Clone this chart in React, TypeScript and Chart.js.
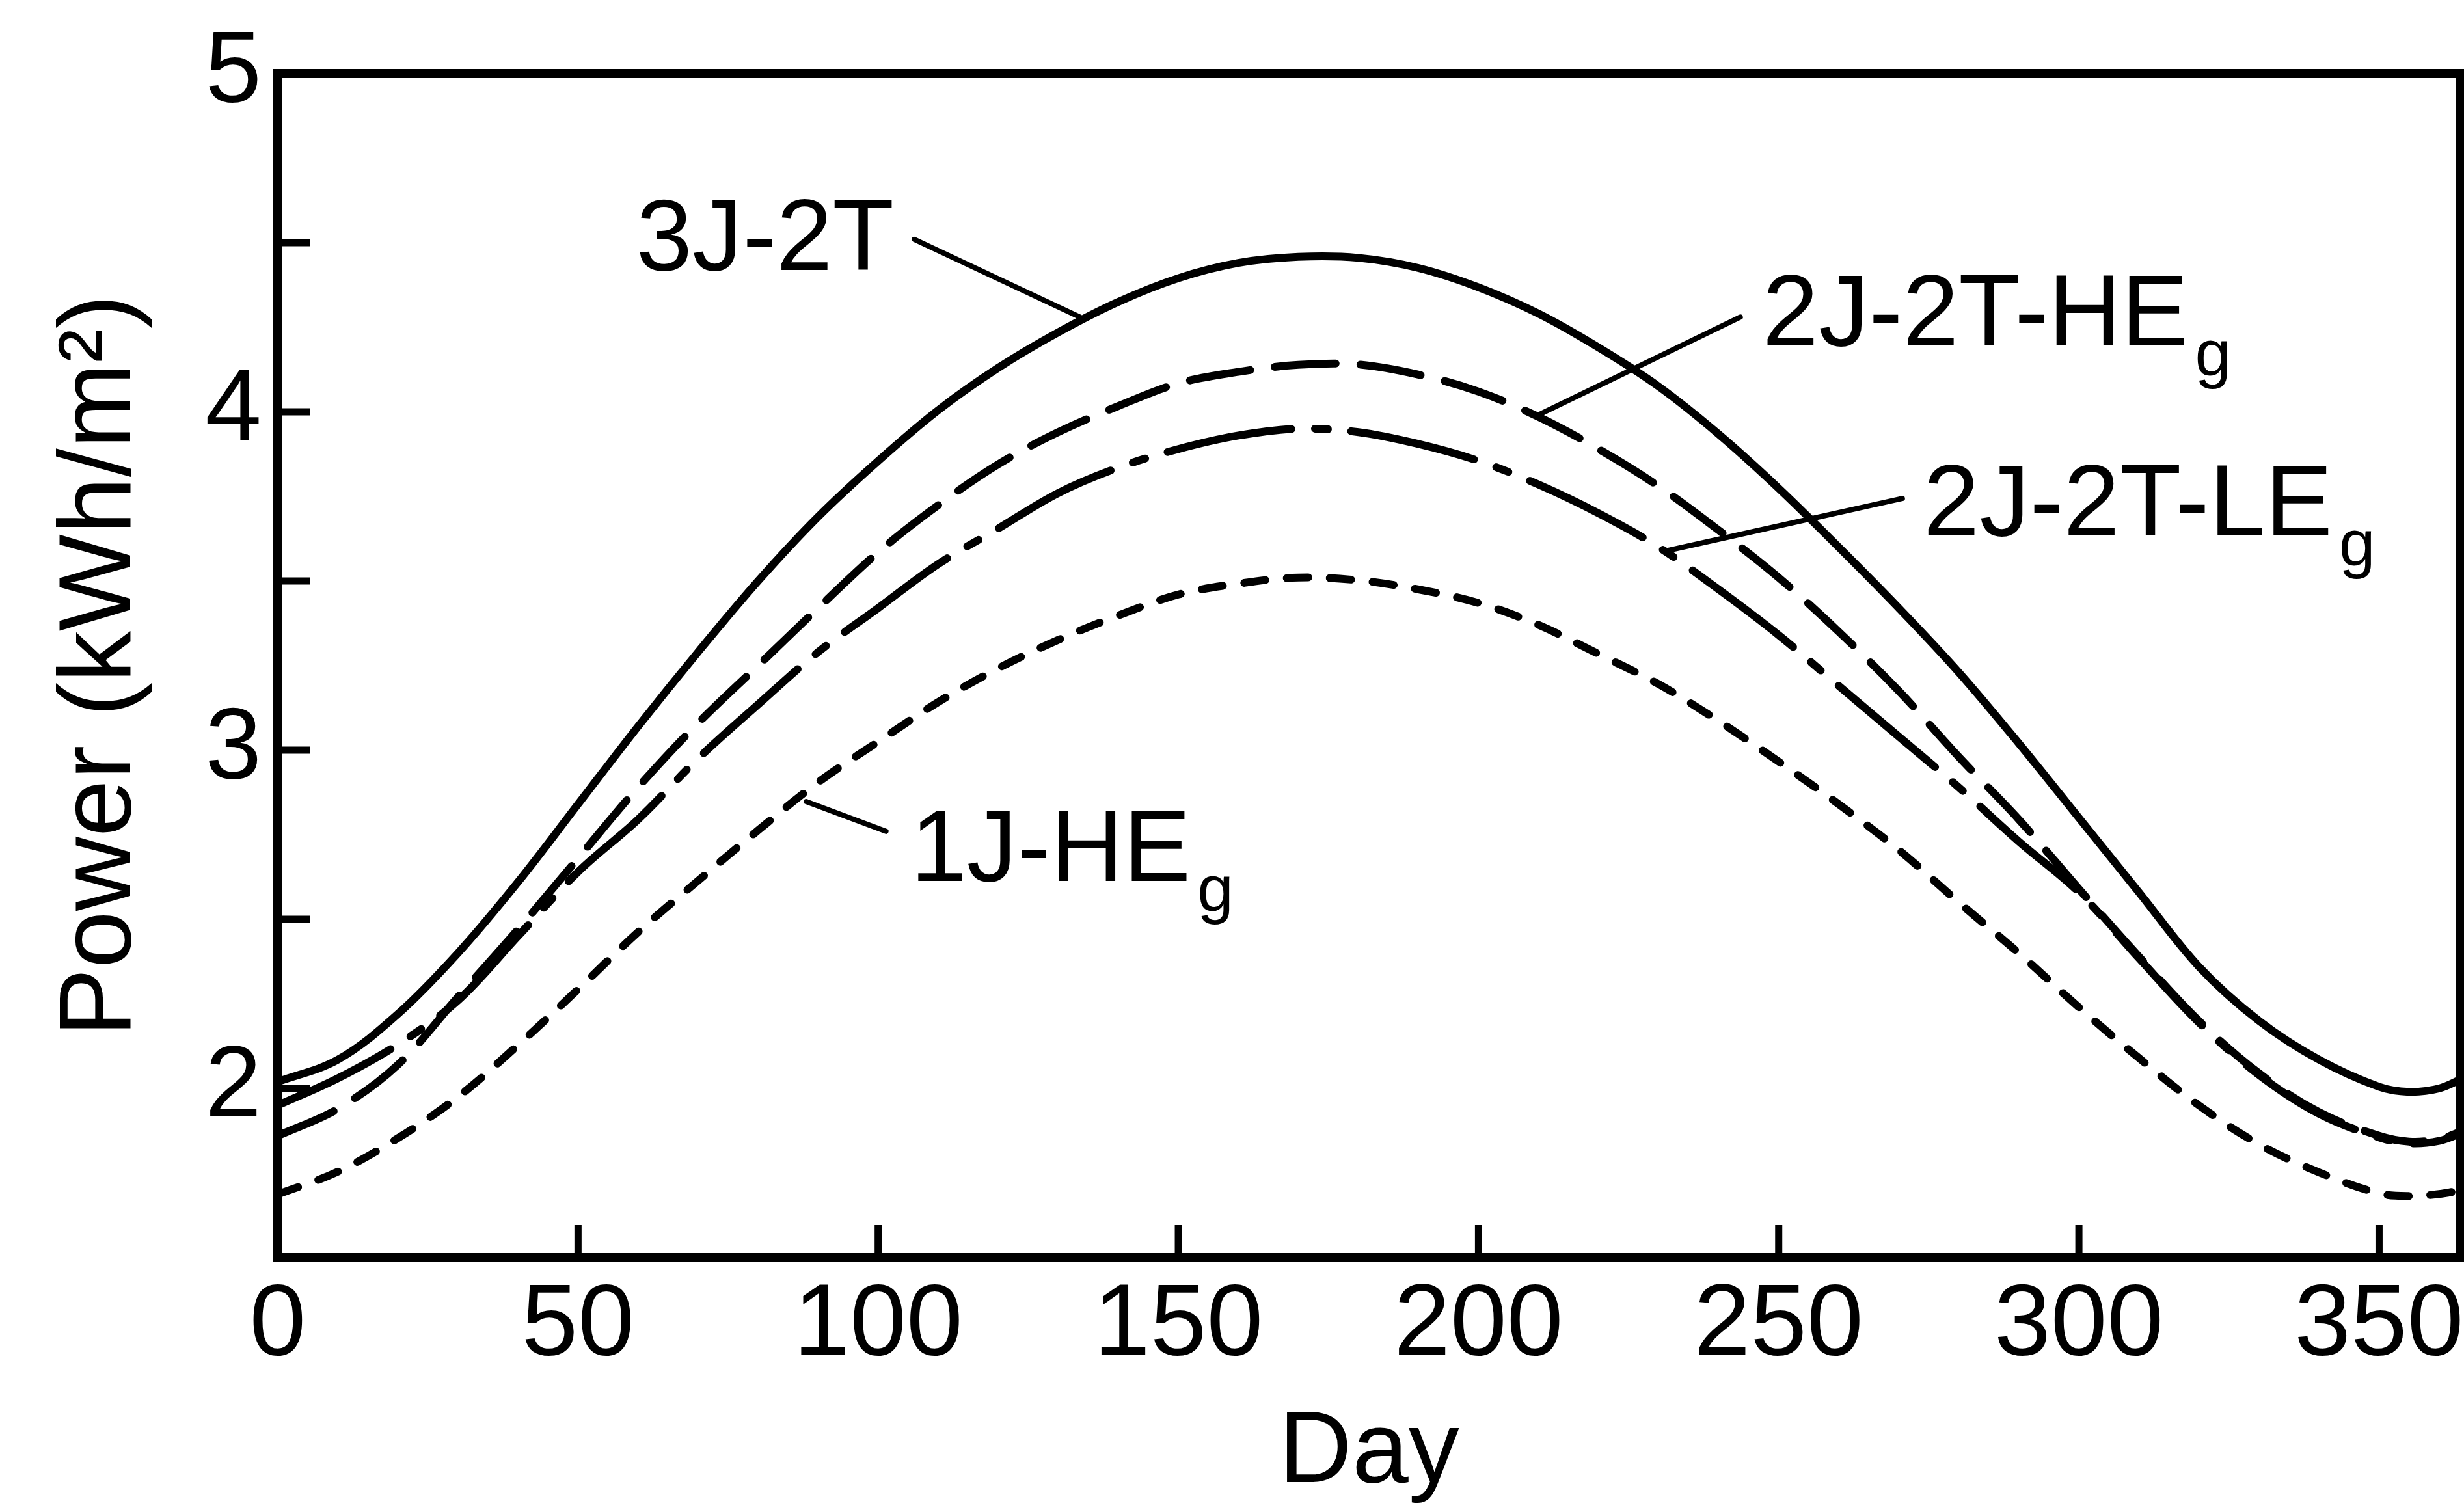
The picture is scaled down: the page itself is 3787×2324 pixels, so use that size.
import React, { useEffect, useRef } from 'react';
import { Chart, registerables } from 'chart.js';

Chart.register(...registerables);

const FONT = "'Liberation Sans', Arial, Helvetica, sans-serif";

// ---- data ----
const days = [0, 10, 20, 30, 40, 50, 60, 70, 80, 90, 100, 110, 120, 130, 140, 150, 160, 170, 180, 190, 200, 210, 220, 230, 240, 250, 260, 270, 280, 290, 300, 310, 320, 330, 340, 350, 355, 360, 364];

const power3J2T = [2.02, 2.085, 2.22, 2.4, 2.61, 2.84, 3.07, 3.29, 3.5, 3.69, 3.855, 4.005, 4.13, 4.235, 4.325, 4.395, 4.44, 4.458, 4.455, 4.425, 4.368, 4.29, 4.19, 4.075, 3.934, 3.774, 3.6, 3.42, 3.23, 3.02, 2.8, 2.58, 2.36, 2.2, 2.085, 2.005, 1.99, 2.0, 2.03];

const power2J2THE = [1.86, 1.94, 2.07, 2.27, 2.47, 2.68, 2.89, 3.08, 3.25, 3.42, 3.585, 3.724, 3.845, 3.94, 4.017, 4.084, 4.118, 4.139, 4.14, 4.11, 4.06, 3.985, 3.89, 3.78, 3.65, 3.51, 3.35, 3.175, 2.98, 2.795, 2.59, 2.39, 2.2, 2.045, 1.93, 1.86, 1.843, 1.85, 1.875];

const power2J2TLE = [1.95, 2.03, 2.13, 2.26, 2.45, 2.64, 2.795, 2.975, 3.135, 3.29, 3.42, 3.55, 3.655, 3.76, 3.835, 3.89, 3.93, 3.95, 3.94, 3.905, 3.855, 3.785, 3.7, 3.6, 3.475, 3.34, 3.19, 3.04, 2.89, 2.73, 2.58, 2.385, 2.195, 2.04, 1.925, 1.855, 1.838, 1.845, 1.87];

const power1JHE = [1.687, 1.754, 1.853, 1.975, 2.128, 2.293, 2.462, 2.614, 2.763, 2.905, 3.025, 3.142, 3.242, 3.326, 3.398, 3.46, 3.492, 3.51, 3.502, 3.475, 3.435, 3.37, 3.284, 3.195, 3.086, 2.966, 2.84, 2.705, 2.55, 2.4, 2.24, 2.09, 1.95, 1.835, 1.752, 1.69, 1.682, 1.688, 1.7];

const xTickValues = [0, 50, 100, 150, 200, 250, 300, 350];
const yTickValues = [1.5, 2, 2.5, 3, 3.5, 4, 4.5, 5];
const yLabelValues = [2, 3, 4, 5];

// ---- curve labels (data coordinates) ----
const labelNames = ['3J-2T', '2J-2T-HE', '2J-2T-LE', '1J-HE'];
const labelSubscripts = ['', 'g', 'g', 'g'];
const labelDays = [59.7, 247.3, 274.1, 105.4];
const labelPowers = [4.419, 4.196, 3.635, 2.613];
const leaderStartDays = [106.0, 243.6, 270.6, 88.0];
const leaderStartPowers = [4.51, 4.28, 3.744, 2.848];
const leaderEndDays = [133.6, 209.9, 231.0, 101.3];
const leaderEndPowers = [4.28, 3.99, 3.588, 2.76];

const toPoints = (ys: number[]) => days.map((d, i) => ({ x: d, y: ys[i] }));

const framePlugin = {
  id: 'frameAndLabels',
  afterDatasetsDraw(chart: any) {
    const { ctx, chartArea: a, scales } = chart;
    const xs = scales.x;
    const ys = scales.y;
    ctx.save();
    ctx.strokeStyle = '#000';
    ctx.fillStyle = '#000';
    ctx.lineCap = 'butt';

    // inward tick marks
    ctx.lineWidth = 11;
    const tickLen = 50;
    xTickValues.forEach((v) => {
      if (v <= xs.min || v >= xs.max) return;
      const px = xs.getPixelForValue(v);
      ctx.beginPath();
      ctx.moveTo(px, a.bottom);
      ctx.lineTo(px, a.bottom - tickLen);
      ctx.stroke();
    });
    yTickValues.forEach((v) => {
      if (v <= ys.min || v >= ys.max) return;
      const py = ys.getPixelForValue(v);
      ctx.beginPath();
      ctx.moveTo(a.left, py);
      ctx.lineTo(a.left + tickLen, py);
      ctx.stroke();
    });

    // frame
    ctx.lineWidth = 14;
    ctx.strokeRect(a.left, a.top, a.right - a.left, a.bottom - a.top);

    // leader lines
    ctx.lineWidth = 8;
    ctx.lineCap = 'round';
    labelNames.forEach((_, i) => {
      ctx.beginPath();
      ctx.moveTo(xs.getPixelForValue(leaderStartDays[i]), ys.getPixelForValue(leaderStartPowers[i]));
      ctx.lineTo(xs.getPixelForValue(leaderEndDays[i]), ys.getPixelForValue(leaderEndPowers[i]));
      ctx.stroke();
    });

    // labels with subscripts
    ctx.textAlign = 'left';
    ctx.textBaseline = 'alphabetic';
    labelNames.forEach((name, i) => {
      const px = xs.getPixelForValue(labelDays[i]);
      const py = ys.getPixelForValue(labelPowers[i]);
      ctx.font = `155px ${FONT}`;
      ctx.fillText(name, px, py);
      if (labelSubscripts[i]) {
        const w = ctx.measureText(name).width;
        ctx.font = `100px ${FONT}`;
        ctx.fillText(labelSubscripts[i], px + w + 10, py + 46);
      }
    });
    ctx.restore();
  },
};

export default function App() {
  const canvasRef = useRef<HTMLCanvasElement | null>(null);

  useEffect(() => {
    const canvas = canvasRef.current;
    if (!canvas) return;
    const common = {
      borderColor: '#000',
      backgroundColor: '#000',
      borderWidth: 12,
      pointRadius: 0,
      fill: false,
      tension: 0.35,
      borderCapStyle: 'round' as const,
      borderJoinStyle: 'round' as const,
    };
    const chart = new Chart(canvas, {
      type: 'line',
      data: {
        datasets: [
          { ...common, label: '3J-2T', data: toPoints(power3J2T) },
          { ...common, label: '2J-2T-HEg', data: toPoints(power2J2THE), borderDash: [94, 38] },
          { ...common, label: '2J-2T-LEg', data: toPoints(power2J2TLE), borderDash: [194, 36, 20, 36] },
          { ...common, label: '1J-HEg', data: toPoints(power1JHE), borderDash: [33, 33] },
        ],
      },
      options: {
        animation: false,
        responsive: false,
        devicePixelRatio: 1,
        layout: { padding: { top: 113, right: 6, left: 0, bottom: 0 } },
        plugins: {
          legend: { display: false },
          tooltip: { enabled: false },
        },
        scales: {
          x: {
            type: 'linear',
            min: 0,
            max: 363.5,
            grid: { display: false, drawTicks: false },
            border: { display: false },
            afterBuildTicks: (s: any) => {
              s.ticks = xTickValues.map((v) => ({ value: v }));
            },
            ticks: {
              color: '#000',
              font: { family: FONT, size: 156 },
              padding: 12,
              maxRotation: 0,
              autoSkip: false,
              callback: (v: any) => String(v),
            },
            title: {
              display: true,
              text: 'Day',
              color: '#000',
              font: { family: FONT, size: 156, lineHeight: 1.0 },
              padding: { top: 0, bottom: 11 },
            },
            afterFit: (s: any) => {
              s.height = 391;
              s.paddingLeft = 0;
              s.paddingRight = 0;
            },
          },
          y: {
            type: 'linear',
            min: 1.5,
            max: 5,
            grid: { display: false, drawTicks: false },
            border: { display: false },
            afterBuildTicks: (s: any) => {
              s.ticks = yTickValues.map((v) => ({ value: v }));
            },
            ticks: {
              color: '#000',
              font: { family: FONT, size: 156 },
              padding: 25,
              autoSkip: false,
              callback: (v: any) => (yLabelValues.includes(Number(v)) ? String(v) : ''),
            },
            title: {
              display: true,
              text: 'Power (kWh/m²)',
              color: '#000',
              font: { family: FONT, size: 158, lineHeight: 1.2 },
              padding: { top: 62, bottom: 0 },
            },
            afterFit: (s: any) => {
              s.width = 427;
              s.paddingTop = 0;
              s.paddingBottom = 0;
            },
          },
        },
      } as any,
      plugins: [framePlugin],
    });
    return () => {
      chart.destroy();
    };
  }, []);

  return (
    <div style={{ position: 'fixed', left: 0, top: 0, width: 3787, height: 2324, background: '#fff' }}>
      <canvas ref={canvasRef} width={3787} height={2324} style={{ display: 'block', width: 3787, height: 2324 }} />
    </div>
  );
}
